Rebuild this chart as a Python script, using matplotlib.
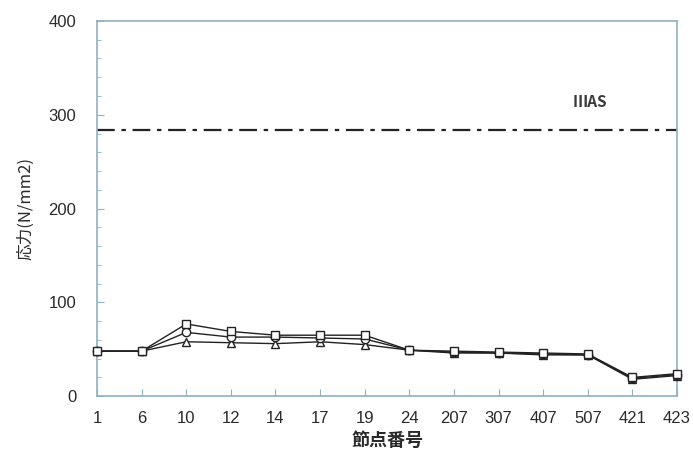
import matplotlib
matplotlib.use("Agg")
import matplotlib.pyplot as plt
from matplotlib.ticker import MultipleLocator

plt.rcParams["font.family"] = ["Liberation Sans", "Noto Sans CJK JP", "DejaVu Sans"]

# ── データ ──────────────────────────────────
nodes = ["1", "6", "10", "12", "14", "17", "19", "24",
         "207", "307", "407", "507", "421", "423"]
stress_sq = [48, 48, 77, 69, 65, 65, 65, 49, 48, 47, 46, 45, 20, 24]
stress_ci = [48, 48, 68, 63, 63, 62, 61, 49, 47, 46, 45, 44, 19, 23]
stress_tr = [48, 48, 58, 57, 56, 58, 55, 49, 46, 46, 44, 44, 18, 22]
allow_stress = 284
allow_label = "ⅢAS"

SPINE = "#8fb0c4"
LINE = "#222222"
TEXT = "#2a2a2a"
JP = ["Noto Sans CJK JP", "DejaVu Sans"]

fig = plt.figure(figsize=(6.93, 4.65), dpi=100)
ax = fig.add_axes([0.140, 0.148, 0.837, 0.807])

x = list(range(len(nodes)))
for vals, mk in [(stress_tr, "^"), (stress_ci, "o"), (stress_sq, "s")]:
    ax.plot(x, vals, color=LINE, lw=1.0, marker=mk, markersize=6,
            markerfacecolor="white", markeredgecolor=LINE, markeredgewidth=1.0,
            clip_on=False, zorder=3)

ax.axhline(allow_stress, color=LINE, lw=1.6, ls=(0, (8, 3, 2, 3)))
ax.text(11.05, 305, allow_label, ha="center", va="bottom", fontsize=11,
        fontweight="bold", color="#3a3a3a", family=JP)

ax.set_xlim(0, len(nodes) - 1)
ax.set_ylim(0, 400)
ax.set_xticks(x)
ax.set_xticklabels(nodes)
ax.yaxis.set_major_locator(MultipleLocator(100))
ax.yaxis.set_minor_locator(MultipleLocator(20))
ax.tick_params(axis="both", which="both", direction="in", color=SPINE,
               labelcolor=TEXT, labelsize=12)
ax.tick_params(axis="y", which="major", length=5, pad=15)
ax.tick_params(axis="y", which="minor", length=3)
ax.tick_params(axis="x", length=5, pad=11)
for s in ax.spines.values():
    s.set_color(SPINE)
    s.set_linewidth(1.2)

ax.set_xlabel("節点番号", fontsize=13, fontweight="bold", color=TEXT,
              family=JP, labelpad=3)
ax.set_ylabel("応力(N/mm2)", fontsize=12, color=TEXT, family=JP, labelpad=10)

fig.savefig("out.png", dpi=100)
